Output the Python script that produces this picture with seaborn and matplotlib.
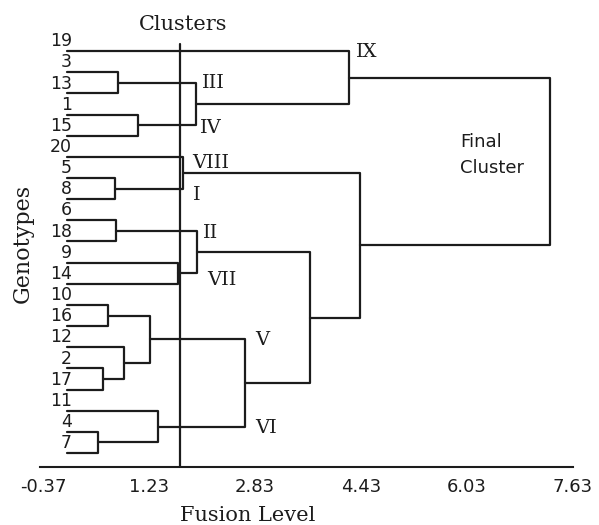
import numpy as np
import pandas as pd
import matplotlib
matplotlib.use("Agg")
import matplotlib.pyplot as plt
import seaborn as sns

# leaves, top to bottom
leaves = ["19", "3", "13", "1", "15", "20", "5", "8", "6", "18",
          "9", "14", "10", "16", "12", "2", "17", "11", "4", "7"]

# merges: node ids 0..19 are leaves, merge k creates node 20 + k
merge_left = [1, 3, 20, 0, 6, 5, 8, 10, 26, 12, 15, 14, 29, 18, 17, 32, 28, 25, 23]
merge_right = [2, 4, 21, 22, 7, 24, 9, 11, 27, 13, 16, 30, 31, 19, 33, 34, 35, 36, 37]
merge_height = [0.76, 1.06, 1.94, 4.25, 0.72, 1.74, 0.73, 1.67, 1.96, 0.61,
                0.54, 0.85, 1.25, 0.46, 1.37, 2.68, 3.66, 4.42, 7.28]

cut_level = 1.70
x_ticks = [-0.37, 1.23, 2.83, 4.43, 6.03, 7.63]

cluster_names = ["IX", "III", "IV", "VIII", "I", "II", "VII", "V", "VI"]
cluster_pos = [(4.36, 0.05), (2.03, 1.5), (2.0, 3.64), (1.88, 5.3), (1.89, 6.8),
               (2.05, 8.6), (2.11, 10.8), (2.83, 13.66), (2.83, 17.8)]

# node positions
node_x = [0.0] * len(leaves)
node_y = list(range(len(leaves)))
rows = []
for k, (a, b, h) in enumerate(zip(merge_left, merge_right, merge_height)):
    pts = [(node_x[a], node_y[a]), (h, node_y[a]), (h, node_y[b]), (node_x[b], node_y[b])]
    for order, (px, py) in enumerate(pts):
        rows.append({"link": k, "order": order, "x": px, "y": py})
    node_x.append(h)
    node_y.append((node_y[a] + node_y[b]) / 2)
links = pd.DataFrame(rows)

sns.set_style("white")
line_color = "#1c1c1c"

fig = plt.figure(figsize=(5.99, 5.25), dpi=100)
ax = fig.add_axes([40 / 599, 58 / 525, 533 / 599, 454 / 525])

sns.lineplot(data=links, x="x", y="y", units="link", estimator=None, sort=False,
             color=line_color, linewidth=1.6, legend=False, ax=ax)

ax.set_xlim(-0.415, 7.63)
ax.set_ylim(19.66, -1.8)

ax.plot([cut_level, cut_level], [-0.33, 19.66], color=line_color, linewidth=1.6)

for name, (cx, cy) in zip(cluster_names, cluster_pos):
    ax.text(cx, cy, name, family="DejaVu Serif", fontsize=14, ha="left", va="center",
            color=line_color)

ax.text(5.93, 4.9, "Final\nCluster", family="DejaVu Sans", fontsize=13, ha="left",
        va="center", linespacing=1.6, color=line_color)
ax.text(1.74, -1.28, "Clusters", family="DejaVu Serif", fontsize=15, ha="center",
        va="center", color=line_color)

for s in ["top", "right", "left"]:
    ax.spines[s].set_visible(False)
ax.spines["bottom"].set_color(line_color)
ax.spines["bottom"].set_linewidth(1.5)

ax.set_xticks(x_ticks, labels=[f"{t:.2f}" for t in x_ticks])
ax.tick_params(axis="x", direction="in", length=3, width=0.8, pad=8,
               labelsize=13, colors=line_color)
ax.set_yticks(np.arange(len(leaves)) - 0.56, labels=leaves)
ax.tick_params(axis="y", length=0, pad=-23, labelsize=12.5, colors=line_color)
for lab in ax.get_xticklabels() + ax.get_yticklabels():
    lab.set_family("DejaVu Sans")

ax.set_xlabel("Fusion Level", family="DejaVu Serif", fontsize=15, color=line_color)
ax.xaxis.set_label_coords(0.39, -0.085)
ax.set_ylabel("Genotypes", family="DejaVu Serif", fontsize=16, color=line_color)
ax.yaxis.set_label_coords(-0.012, 0.493)

fig.savefig("out.png", dpi=100)
